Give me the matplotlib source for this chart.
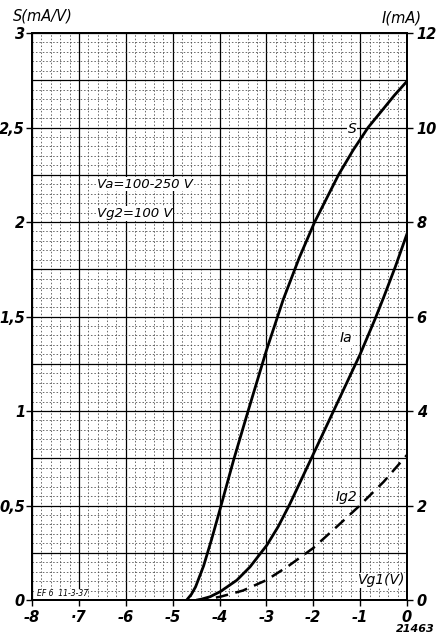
import numpy as np
import matplotlib.pyplot as plt

# grid voltage Vg1 (V) and values
vg_s = [-4.70, -4.60, -4.51, -4.34, -4.17, -4.0, -3.7, -3.39, -3.0, -2.64,
        -2.3, -1.97, -1.46, -1.15, -0.83, -0.5, -0.27, 0.0]
s_val = [0.0, 0.03, 0.07, 0.18, 0.32, 0.47, 0.74, 1.0, 1.32, 1.59,
         1.81, 2.0, 2.25, 2.38, 2.5, 2.6, 2.67, 2.745]

vg_ia = [-4.45, -4.2, -3.98, -3.63, -3.35, -2.99, -2.75, -2.5, -2.04, -1.52,
         -1.0, -0.68, -0.5, -0.25, 0.0]
ia_val = [0.0, 0.07, 0.18, 0.42, 0.7, 1.16, 1.55, 2.03, 3.0, 4.1,
          5.2, 5.95, 6.4, 7.05, 7.75]

vg_ig2 = [-4.5, -4.25, -3.98, -3.5, -3.0, -2.53, -2.0, -1.5, -1.04, -0.5, 0.0]
ig2_val = [0.0, 0.02, 0.07, 0.2, 0.42, 0.72, 1.1, 1.55, 1.97, 2.5, 3.07]

x_ticks = [-8, -7, -6, -5, -4, -3, -2, -1, 0]
x_labels = ['-8', '·7', '-6', '-5', '-4', '-3', '-2', '-1', '0']
s_ticks = [0, 0.5, 1, 1.5, 2, 2.5, 3]
s_labels = ['0', '0,5', '1', '1,5', '2', '2,5', '3']
i_ticks = [0, 2, 4, 6, 8, 10, 12]
i_labels = ['0', '2', '4', '6', '8', '10', '12']

fig = plt.figure(figsize=(4.41, 6.42), dpi=100)
ax = fig.add_axes([0.0726, 0.0654, 0.8503, 0.8832])
ax.set_xlim(-8, 0)
ax.set_ylim(0, 3)

# graph paper: heavy lines every 1 V / 1 mA, fine ones every 0.2
for v in np.arange(-8, 0.01, 0.2):
    major = abs(v - round(v)) < 1e-6
    ax.axvline(v, color='black' if major else '#444444',
               lw=0.9 if major else 0.55,
               ls='-' if major else (0, (2, 2.5)), zorder=1)
for s in np.arange(0, 3.001, 0.05):
    major = abs(s / 0.25 - round(s / 0.25)) < 1e-6
    ax.axhline(s, color='black' if major else '#444444',
               lw=0.9 if major else 0.55,
               ls='-' if major else (0, (2, 2.5)), zorder=1)

ax2 = ax.twinx()
ax2.set_ylim(0, 12)

ax.plot(vg_s, s_val, color='black', lw=2.0, zorder=3)
ax2.plot(vg_ia, ia_val, color='black', lw=2.0, zorder=3)
ax2.plot(vg_ig2, ig2_val, color='black', lw=1.8, ls=(0, (5, 3)), zorder=3)

tfont = dict(fontsize=10.5, style='italic', fontweight='bold')
ax.set_xticks(x_ticks)
ax.set_xticklabels(x_labels, **tfont)
ax.set_yticks(s_ticks)
ax.set_yticklabels(s_labels, **tfont)
ax2.set_yticks(i_ticks)
ax2.set_yticklabels(i_labels, **tfont)
ax.tick_params(axis='y', length=4, width=1, pad=1)
ax.tick_params(axis='x', length=4, width=1, pad=3)
ax2.tick_params(axis='y', length=4, width=1, pad=3)
for a in (ax, ax2):
    for sp in a.spines.values():
        sp.set_linewidth(1.4)

fig.text(0.03, 0.968, 'S(mA/V)', fontsize=10.5, style='italic')
fig.text(0.865, 0.965, 'I(mA)', fontsize=10.5, style='italic')
fig.text(0.985, 0.015, '21463', fontsize=8, style='italic', fontweight='bold', ha='right')

wbox = dict(facecolor='white', edgecolor='none', pad=0.4)
ax.text(-6.61, 2.20, 'Va=100-250 V', fontsize=9.5, style='italic', va='center',
        bbox=wbox, zorder=4)
ax.text(-6.61, 2.045, 'Vg2=100 V', fontsize=9.5, style='italic', va='center',
        bbox=wbox, zorder=4)
ax.text(-1.17, 2.49, 'S', fontsize=10, style='italic', ha='center', va='center',
        bbox=wbox, zorder=4)
ax2.text(-1.30, 5.54, 'Ia', fontsize=10, style='italic', ha='center', va='center',
         bbox=wbox, zorder=4)
ax2.text(-1.30, 2.18, 'Ig2', fontsize=10, style='italic', ha='center', va='center',
         bbox=wbox, zorder=4)
ax.text(-0.04, 0.105, 'Vg1(V)', fontsize=10, style='italic', ha='right', va='center',
        bbox=wbox, zorder=4)
ax.text(-7.9, 0.02, 'EF 6  11-3-37', fontsize=5.5, style='italic',
        bbox=dict(facecolor='white', edgecolor='none', pad=0.3), zorder=4)

fig.savefig('out.png', dpi=100)
